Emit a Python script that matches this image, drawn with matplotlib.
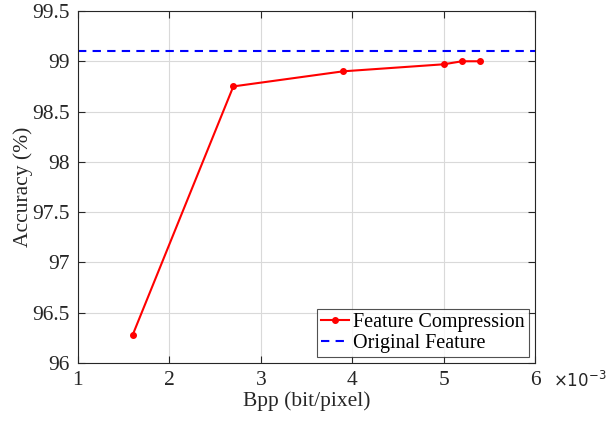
import matplotlib
matplotlib.use("Agg")
import matplotlib.pyplot as plt

plt.rcParams['font.family'] = ['Liberation Serif', 'DejaVu Serif']
plt.rcParams['mathtext.fontset'] = 'dejavusans'

bpp = [1.6, 2.7, 3.9, 5.0, 5.2, 5.4]  # x 10^-3
acc = [96.28, 98.75, 98.90, 98.97, 99.00, 99.00]
orig_acc = 99.1
xticks = [1, 2, 3, 4, 5, 6]
yticks = [96, 96.5, 97, 97.5, 98, 98.5, 99, 99.5]
ytick_labels = ['96', '96.5', '97', '97.5', '98', '98.5', '99', '99.5']

fig = plt.figure(figsize=(6.13, 4.23), dpi=100)
ax = fig.add_axes([0.127, 0.142, 0.746, 0.832])

axc = '#262626'
ax.plot(bpp, acc, color='#ff0000', marker='o', markersize=4, linewidth=1.5,
        label='Feature Compression')
ax.axhline(orig_acc, color='#0000ff', linestyle=(0, (4, 3)), linewidth=1.5,
           label='Original Feature')

ax.set_xlim(1, 6)
ax.set_ylim(96, 99.5)
ax.set_xticks(xticks)
ax.set_yticks(yticks)
ax.set_yticklabels(ytick_labels)
ax.grid(True, color='#d9d9d9', linewidth=0.8)
ax.set_axisbelow(True)
ax.tick_params(direction='in', labelsize=15.5, colors=axc, length=5, top=True, right=True,
               labelcolor='#262626', pad=6)
for s in ax.spines.values():
    s.set_color(axc)
    s.set_linewidth(0.8)

ax.set_xlabel('Bpp (bit/pixel)', fontsize=15.5, color=axc, labelpad=1)
ax.set_ylabel('Accuracy (%)', fontsize=15.5, color=axc, labelpad=-1)
fig.text(553 / 613, 1 - 381 / 423, '×10$^{-3}$', fontsize=12,
         family='DejaVu Sans', color=axc, ha='left', va='center')

leg = ax.legend(loc='lower right', fontsize=14.5, frameon=True, fancybox=False,
                edgecolor=axc, borderpad=0.2, handlelength=1.4, handletextpad=0.2,
                labelspacing=0.1, borderaxespad=0.3)
leg.get_frame().set_linewidth(0.8)

fig.savefig('out.png', dpi=100)
